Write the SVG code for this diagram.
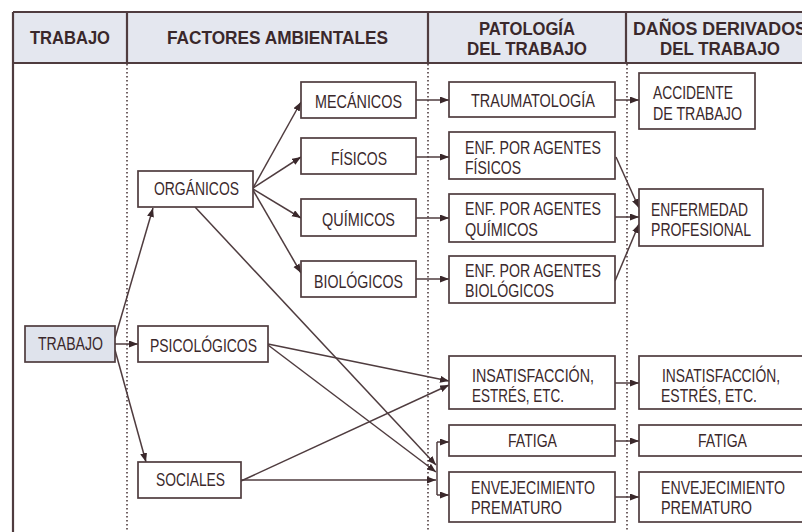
<svg xmlns="http://www.w3.org/2000/svg" width="802" height="532" viewBox="0 0 802 532">
<style>
  .frame{stroke:#4f3c3f;stroke-width:2.2;fill:none}
  .dot{stroke:#4f3c3f;stroke-width:1.6;stroke-dasharray:1.6 2.4;fill:none}
  .box{fill:#ffffff;stroke:#4f3c3f;stroke-width:1.7}
  .blue{fill:#dfe3ec}
  text{font-family:"Liberation Sans Narrow","Liberation Sans",Arial,sans-serif;fill:#3a282b;font-size:18px}
  .h{font-weight:bold;font-size:17.5px}
  .c{stroke:#4f3c3f;stroke-width:1.5;fill:none;marker-end:url(#ah)}
  .l{stroke:#4f3c3f;stroke-width:1.5;fill:none}
</style>
<defs>
  <marker id="ah" markerWidth="10" markerHeight="8" refX="9" refY="3.5" orient="auto" markerUnits="userSpaceOnUse">
    <path d="M0,0 L9,3.5 L0,7 z" fill="#3a282b"/>
  </marker>
</defs>
<rect width="802" height="532" fill="#ffffff"/>
<g id="header">
  <rect x="13" y="12" width="795" height="51" fill="#e4e7ef"/>
  <path class="frame" d="M13,12 H808 M13,63 H808 M13,12 V532 M127,12 V63 M428,12 V63 M626,12 V63"/>
  <path class="dot" d="M127,64 V532 M428,64 V532 M627,64 V532"/>
  <text class="h" x="30" y="44" textLength="80" lengthAdjust="spacingAndGlyphs">TRABAJO</text>
  <text class="h" x="167" y="44" textLength="221" lengthAdjust="spacingAndGlyphs">FACTORES AMBIENTALES</text>
  <text class="h" x="479" y="35" textLength="96" lengthAdjust="spacingAndGlyphs">PATOLOGÍA</text>
  <text class="h" x="467" y="55" textLength="120" lengthAdjust="spacingAndGlyphs">DEL TRABAJO</text>
  <text class="h" x="633" y="35" textLength="174" lengthAdjust="spacingAndGlyphs">DAÑOS DERIVADOS</text>
  <text class="h" x="660" y="55" textLength="120" lengthAdjust="spacingAndGlyphs">DEL TRABAJO</text>
</g>
<g id="connectors">
  <path class="c" d="M115,338 L153,208"/>
  <path class="c" d="M115,344 L138,344"/>
  <path class="c" d="M115,350 L146,462"/>
  <path class="c" d="M253,188 L301,102"/>
  <path class="c" d="M253,188 L301,157"/>
  <path class="c" d="M253,189 L301,218"/>
  <path class="c" d="M253,190 L301,273"/>
  <path class="c" d="M195,207 L436,465"/>
  <path class="c" d="M268,344 L449,381"/>
  <path class="c" d="M268,345 L436,472"/>
  <path class="c" d="M241,481 L449,385"/>
  <path class="c" d="M241,480 L436,480"/>
  <path class="l" d="M437,442 V495"/>
  <path class="c" d="M437,442 H449"/>
  <path class="c" d="M437,495 H449"/>
  <path class="c" d="M416,100 H449"/>
  <path class="c" d="M416,157 H449"/>
  <path class="c" d="M416,218 H449"/>
  <path class="c" d="M416,279 H449"/>
  <path class="c" d="M615,100 H639"/>
  <path class="c" d="M616,157 L639,208"/>
  <path class="c" d="M615,217 H639"/>
  <path class="c" d="M615,281 L639,224"/>
  <path class="c" d="M615,383 H639"/>
  <path class="c" d="M615,441 H639"/>
  <path class="c" d="M615,497 H639"/>
</g>
<g id="trabajo">
  <rect class="box blue" x="25" y="326" width="90" height="36"/>
  <text x="38" y="350" textLength="65" lengthAdjust="spacingAndGlyphs">TRABAJO</text>
</g>
<g id="organicos">
  <rect class="box" x="138" y="171" width="115" height="36"/>
  <text x="154" y="195" textLength="85" lengthAdjust="spacingAndGlyphs">ORGÁNICOS</text>
</g>
<g id="psicologicos">
  <rect class="box" x="138" y="326" width="130" height="36"/>
  <text x="150" y="352" textLength="107" lengthAdjust="spacingAndGlyphs">PSICOLÓGICOS</text>
</g>
<g id="sociales">
  <rect class="box" x="138" y="462" width="103" height="36"/>
  <text x="156" y="486" textLength="69" lengthAdjust="spacingAndGlyphs">SOCIALES</text>
</g>
<g id="mecanicos">
  <rect class="box" x="301" y="82" width="115" height="36"/>
  <text x="315" y="108" textLength="87" lengthAdjust="spacingAndGlyphs">MECÁNICOS</text>
</g>
<g id="fisicos">
  <rect class="box" x="301" y="138" width="115" height="36"/>
  <text x="331" y="165" textLength="56" lengthAdjust="spacingAndGlyphs">FÍSICOS</text>
</g>
<g id="quimicos">
  <rect class="box" x="301" y="199" width="115" height="37"/>
  <text x="322" y="226" textLength="73" lengthAdjust="spacingAndGlyphs">QUÍMICOS</text>
</g>
<g id="biologicos">
  <rect class="box" x="301" y="261" width="115" height="36"/>
  <text x="314" y="288" textLength="89" lengthAdjust="spacingAndGlyphs">BIOLÓGICOS</text>
</g>
<g id="traumatologia">
  <rect class="box" x="449" y="82" width="166" height="35"/>
  <text x="471" y="107" textLength="124" lengthAdjust="spacingAndGlyphs">TRAUMATOLOGÍA</text>
</g>
<g id="enf-fisicos">
  <rect class="box" x="449" y="132" width="166" height="47"/>
  <text x="465" y="154" textLength="136" lengthAdjust="spacingAndGlyphs">ENF. POR AGENTES</text>
  <text x="465" y="174" textLength="56" lengthAdjust="spacingAndGlyphs">FÍSICOS</text>
</g>
<g id="enf-quimicos">
  <rect class="box" x="449" y="194" width="166" height="48"/>
  <text x="465" y="215" textLength="136" lengthAdjust="spacingAndGlyphs">ENF. POR AGENTES</text>
  <text x="465" y="236" textLength="73" lengthAdjust="spacingAndGlyphs">QUÍMICOS</text>
</g>
<g id="enf-biologicos">
  <rect class="box" x="449" y="256" width="166" height="47"/>
  <text x="465" y="277" textLength="136" lengthAdjust="spacingAndGlyphs">ENF. POR AGENTES</text>
  <text x="465" y="297" textLength="89" lengthAdjust="spacingAndGlyphs">BIOLÓGICOS</text>
</g>
<g id="accidente">
  <rect class="box" x="639" y="73" width="116" height="56"/>
  <text x="653" y="99" textLength="80" lengthAdjust="spacingAndGlyphs">ACCIDENTE</text>
  <text x="653" y="120" textLength="89" lengthAdjust="spacingAndGlyphs">DE TRABAJO</text>
</g>
<g id="enfermedad">
  <rect class="box" x="639" y="189" width="124" height="57"/>
  <text x="651" y="216" textLength="97" lengthAdjust="spacingAndGlyphs">ENFERMEDAD</text>
  <text x="651" y="236" textLength="100" lengthAdjust="spacingAndGlyphs">PROFESIONAL</text>
</g>
<g id="insat-pat">
  <rect class="box" x="449" y="356" width="166" height="53"/>
  <text x="472" y="382" textLength="122" lengthAdjust="spacingAndGlyphs">INSATISFACCIÓN,</text>
  <text x="472" y="402" textLength="92" lengthAdjust="spacingAndGlyphs">ESTRÉS, ETC.</text>
</g>
<g id="fatiga-pat">
  <rect class="box" x="449" y="425" width="166" height="31"/>
  <text x="508" y="447" textLength="49" lengthAdjust="spacingAndGlyphs">FATIGA</text>
</g>
<g id="envej-pat">
  <rect class="box" x="449" y="472" width="166" height="50"/>
  <text x="471" y="494" textLength="124" lengthAdjust="spacingAndGlyphs">ENVEJECIMIENTO</text>
  <text x="471" y="514" textLength="91" lengthAdjust="spacingAndGlyphs">PREMATURO</text>
</g>
<g id="insat-dan">
  <rect class="box" x="639" y="356" width="175" height="53"/>
  <text x="662" y="382" textLength="118" lengthAdjust="spacingAndGlyphs">INSATISFACCIÓN,</text>
  <text x="661" y="402" textLength="96" lengthAdjust="spacingAndGlyphs">ESTRÉS, ETC.</text>
</g>
<g id="fatiga-dan">
  <rect class="box" x="639" y="425" width="175" height="31"/>
  <text x="698" y="447" textLength="49" lengthAdjust="spacingAndGlyphs">FATIGA</text>
</g>
<g id="envej-dan">
  <rect class="box" x="639" y="472" width="175" height="50"/>
  <text x="661" y="494" textLength="124" lengthAdjust="spacingAndGlyphs">ENVEJECIMIENTO</text>
  <text x="661" y="514" textLength="91" lengthAdjust="spacingAndGlyphs">PREMATURO</text>
</g>
</svg>
